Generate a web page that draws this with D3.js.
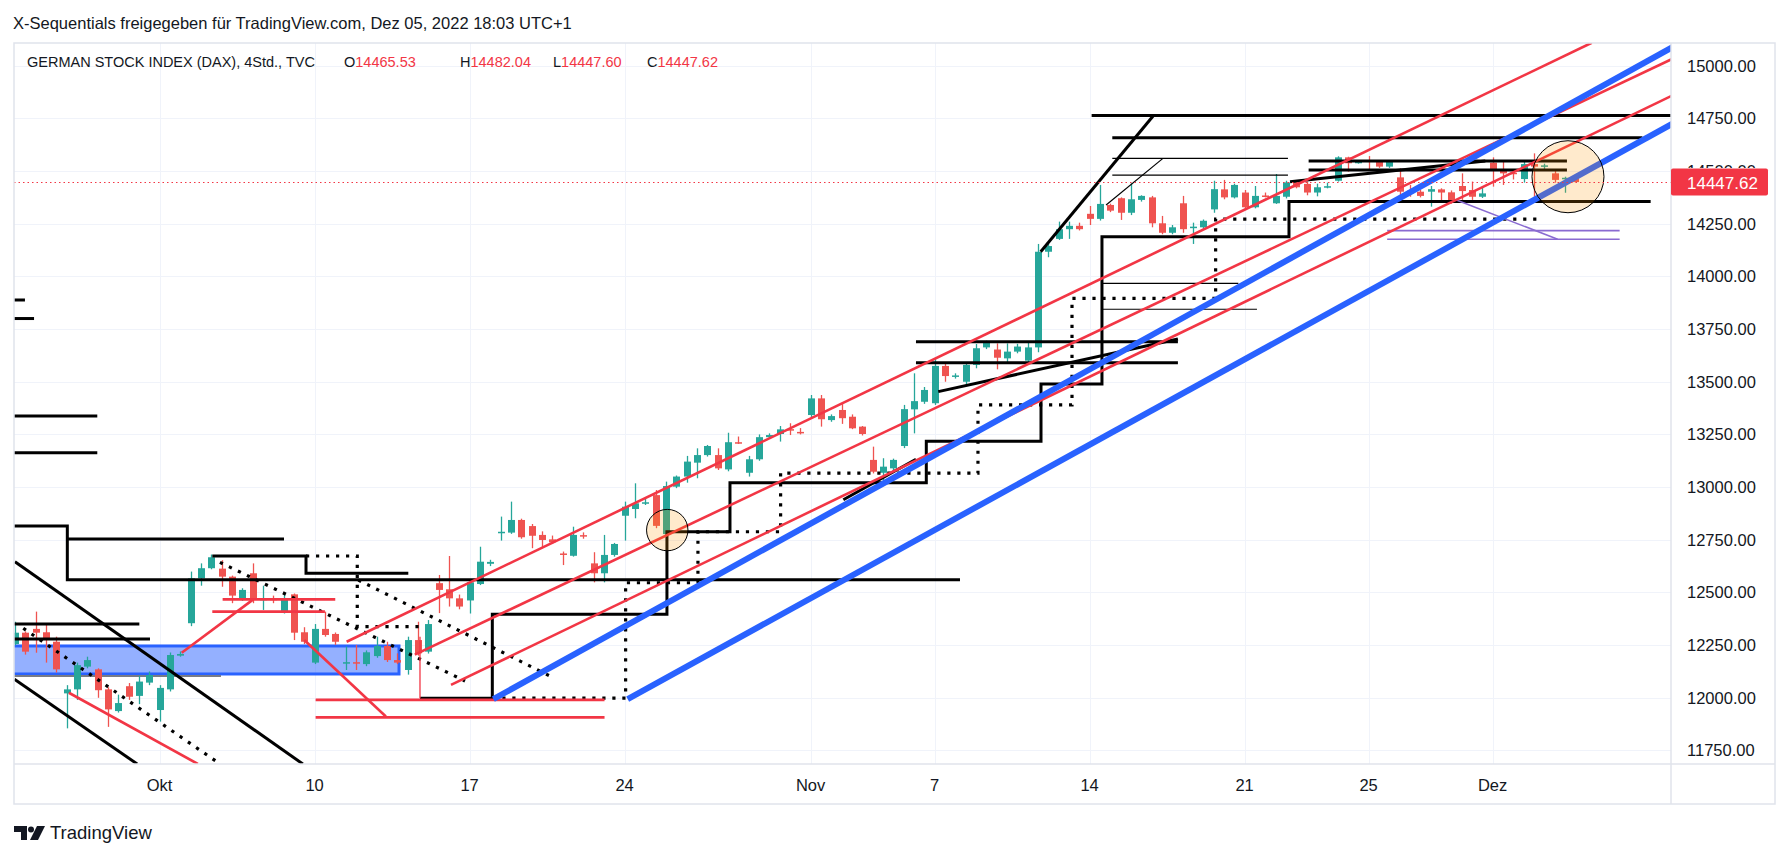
<!DOCTYPE html>
<html><head><meta charset="utf-8">
<script src="https://cdn.jsdelivr.net/npm/d3@7"></script>
<style>
body{margin:0;background:#fff;}
svg{display:block;font-family:"Liberation Sans",Arial,sans-serif;}
</style></head><body>
<svg id="c" width="1791" height="858"></svg>
<script>
// ---------- DATA ----------
const firstBar = 1;
const opens  = [12255,12309,12327,12311,12266,12021,12040,12148,12135,12040,11937,12055,12009,12072,11942,12040,12200,12354,12567,12615,12613,12575,12468,12591,12466,12470,12409,12491,12311,12167,12327,12303,12165,12169,12160,12198,12246,12179,12132,12274,12219,12544,12515,12472,12462,12540,12636,12782,12784,12844,12815,12773,12752,12685,12674,12772,12638,12591,12678,12864,12896,12923,12962,12777,13002,13050,13116,13152,13152,13084,13213,13068,13132,13237,13252,13275,13262,13342,13421,13318,13366,13334,13287,13129,13068,13089,13195,13369,13405,13398,13575,13525,13500,13580,13663,13653,13611,13643,13600,13663,14117,14178,14224,14240,14297,14273,14339,14371,14302,14363,14375,14252,14207,14347,14230,14233,14318,14413,14375,14398,14328,14384,14347,14378,14446,14439,14398,14423,14454,14565,14538,14550,14544,14521,14470,14407,14402,14402,14413,14399,14429,14410,14378,14540,14505,14492,14462,14533,14522,14489,14463,14465.53];
const highs  = [12361,12315,12409,12350,12290,12060,12167,12195,12140,12050,12015,12070,12105,12125,12060,12215,12220,12599,12638,12680,12653,12580,12520,12638,12532,12485,12491,12495,12335,12350,12409,12310,12243,12251,12225,12290,12266,12211,12290,12361,12369,12583,12673,12490,12563,12717,12655,12860,12931,12850,12825,12790,12770,12694,12812,12785,12691,12773,12735,12931,13018,12945,12986,13026,13055,13148,13184,13200,13184,13258,13240,13148,13250,13255,13290,13303,13280,13437,13437,13345,13394,13345,13290,13192,13137,13135,13390,13540,13475,13611,13590,13540,13590,13679,13695,13682,13682,13680,13685,14154,14154,14260,14260,14255,14334,14434,14345,14375,14442,14385,14382,14287,14244,14382,14255,14270,14454,14458,14440,14410,14429,14398,14486,14454,14455,14450,14440,14445,14570,14568,14552,14571,14550,14552,14513,14434,14410,14429,14418,14408,14489,14450,14420,14565,14549,14505,14544,14584,14535,14505,14473,14482.04];
const lows   = [12250,12205,12214,12167,12120,11855,11990,12140,12000,11862,11930,11990,11970,12060,11887,12030,12195,12340,12532,12610,12527,12449,12460,12449,12417,12449,12400,12274,12255,12160,12290,12251,12132,12132,12150,12190,12170,12160,12110,12200,12210,12402,12433,12420,12400,12535,12625,12746,12778,12755,12710,12710,12730,12630,12670,12755,12548,12548,12670,12746,12852,12915,12805,12770,12995,13021,13042,13145,13081,13075,13205,13050,13125,13230,13216,13247,13250,13330,13287,13310,13300,13275,13245,13065,13018,13080,13185,13255,13395,13390,13500,13515,13489,13564,13655,13559,13590,13635,13590,13640,14091,14173,14178,14218,14244,14265,14305,14268,14291,14355,14233,14200,14200,14207,14154,14225,14302,14366,14370,14318,14323,14375,14344,14370,14418,14385,14380,14418,14450,14497,14535,14505,14515,14515,14382,14378,14375,14331,14355,14345,14363,14363,14372,14426,14434,14460,14445,14378,14505,14445,14397,14447.60];
const closes = [12309,12219,12309,12274,12135,12040,12155,12179,12036,11945,11975,12005,12077,12108,12047,12203,12208,12567,12615,12667,12575,12485,12512,12464,12470,12466,12464,12309,12266,12327,12298,12266,12169,12165,12216,12246,12179,12167,12274,12211,12350,12512,12472,12433,12548,12646,12645,12788,12844,12762,12769,12749,12738,12682,12773,12766,12591,12678,12730,12907,12923,12928,12816,13005,13050,13121,13152,13195,13089,13213,13210,13132,13237,13247,13274,13270,13256,13421,13322,13337,13327,13279,13252,13073,13097,13129,13370,13408,13461,13575,13527,13530,13580,13659,13685,13614,13643,13667,13663,14117,14144,14224,14240,14224,14273,14344,14312,14302,14366,14382,14252,14207,14233,14224,14236,14264,14414,14375,14434,14328,14382,14380,14382,14446,14423,14398,14423,14428,14565,14537,14544,14545,14521,14544,14402,14394,14382,14414,14398,14355,14405,14378,14394,14502,14489,14486,14533,14521,14527,14458,14468,14447.62];

const priceTicks = [11750,12000,12250,12500,12750,13000,13250,13500,13750,14000,14250,14500,14750,15000];
const timeTicks  = [15,30,45,60,78,90,105,120,132,144];
const timeLabels = ["Okt","10","17","24","Nov","7","14","21","25","Dez"];
const lastPrice = 14447.62;
const legendValues = [["O","14465.53"],["H","14482.04"],["L","14447.60"],["C","14447.62"]];

// drawings, in [bar, price]
const blueLines = [
  [[47.3,11994],[161.5,15090]],
  [[60.3,11994],[161.5,14727]]
];
const redLines = [
  [[33.1,12266],[153.6,15109]],
  [[39.7,12205],[161.5,15035]],
  [[43.2,12061],[161.5,14861]],
  [[17.14,12214],[24.07,12467]],
  [[21.1,12467],[32.0,12467]],
  [[20.1,12409],[31.0,12409]],
  [[29.0,12274],[36.9,11911]],
  [[30.1,11990],[58.06,11990]],
  [[30.1,11907],[58.06,11907]],
  [[6.22,12024],[18.7,11686]]
];
const thinRedLines = [[[40.2,12290],[40.2,11998]]];
const blackLines = [
  [[40.2,11998],[47.2,11998],[47.2,12396],[64.1,12396],[64.1,12788],[70.2,12788],[70.2,13021],[89.2,13021],[89.2,13217],[100.3,13217],[100.3,13489],[106.2,13489],[106.2,14188],[124.3,14188],[124.3,14355],[159.3,14355]],
  [[1.0,12646],[28.86,11686]],
  [[0.95,12088],[12.83,11686]],
  [[0.5,12815],[6.07,12815],[6.07,12560],[92.46,12560]],
  [[6.07,12754],[27.04,12754]],
  [[20.1,12673],[29.17,12673],[29.17,12591],[39.07,12591]],
  [[0.5,12350],[13.04,12350]],
  [[0.5,12279],[14.07,12279]],
  [[0.5,13163],[8.97,13163]],
  [[0.5,13337],[8.97,13337]],
  [[0.5,13888],[1.97,13888]],
  [[0.5,13800],[2.85,13800]],
  [[88.2,13690],[113.55,13690]],
  [[88.2,13590],[113.55,13590]],
  [[81.17,12940],[88.2,13132]],
  [[90.36,13453],[113.55,13703]],
  [[100.27,14117],[111.23,14766]],
  [[105.2,14764],[161.5,14764]],
  [[107.2,14658],[158.5,14658]],
  [[126.2,14548],[151.2,14548]],
  [[126.2,14505],[151.2,14505]],
  [[124.4,14449],[143.3,14548]]
];
const thinBlackLines = [
  [[107.2,14560],[124.2,14560]],
  [[107.2,14481],[124.2,14481]],
  [[106.6,14339],[112.1,14560]],
  [[106.3,13967],[119.4,13967]],
  [[106.3,13844],[121.2,13844]]
];
const dottedLines = [
  [[47.2,11998],[60.1,11998],[60.1,12546],[67.1,12546],[67.1,12788],[75.1,12788],[75.1,13066],[94.2,13066],[94.2,13390],[103.3,13390],[103.3,13896],[117.2,13896],[117.2,14272],[148.8,14272]],
  [[1.81,12330],[20.85,11686]],
  [[20.84,12643],[44.56,12080]],
  [[34.23,12559],[52.78,12103]],
  [[29.17,12673],[34.13,12673],[34.13,12338],[40.5,12338]]
];
const purpleLines = [
  [[133.8,14217],[156.3,14217]],
  [[133.8,14176],[156.3,14176]],
  [[140.5,14363],[150.3,14176]]
];
const grayLines = [[[0.5,12103],[20.94,12103]]];
const blueBox = [[0.5,12113],[38.17,12246]];
const circleCenters = [[64.13,12796],[151.3,14473]];

// ---------- LAYOUT / STYLE ----------
const W = 1791, H = 858;
const plot = {l:14, r:1671, t:43, b:764};
const axisRight = 1775, axisBottom = 804;
const circleRadii = [20.7, 36];
const C = {green:"#26a69a", red:"#ef5350", line:"#f23645", blue:"#2962ff", text:"#131722", grid:"#f0f3fa", border:"#e0e3eb"};

const svg = d3.select("#c");
const x = d3.scaleLinear().domain([0,152]).range([4.6, 4.6+152*10.333]);
const y = d3.scaleLinear().domain([11685.8, 15107.7]).range([plot.b, plot.t]);

svg.append("rect").attr("width",W).attr("height",H).attr("fill","#fff");
const defs = svg.append("defs");
defs.append("clipPath").attr("id","pc").append("rect")
  .attr("x",plot.l).attr("y",plot.t).attr("width",plot.r-plot.l).attr("height",plot.b-plot.t);

// grid
const grid = svg.append("g").attr("clip-path","url(#pc)");
grid.selectAll("line.h").data(priceTicks).join("line")
  .attr("x1",plot.l).attr("x2",plot.r).attr("y1",d=>Math.round(y(d))+0.5).attr("y2",d=>Math.round(y(d))+0.5)
  .attr("stroke",C.grid).attr("stroke-width",1);
grid.selectAll("line.v").data(timeTicks).join("line")
  .attr("y1",plot.t).attr("y2",plot.b).attr("x1",d=>Math.round(x(d))+0.5).attr("x2",d=>Math.round(x(d))+0.5)
  .attr("stroke",C.grid).attr("stroke-width",1);

const pane = svg.append("g").attr("clip-path","url(#pc)");
const lineGen = d3.line().x(d=>x(d[0])).y(d=>y(d[1]));

// blue box
pane.append("rect")
  .attr("x",x(blueBox[0][0])).attr("y",y(blueBox[1][1]))
  .attr("width",x(blueBox[1][0])-x(blueBox[0][0])).attr("height",y(blueBox[0][1])-y(blueBox[1][1]))
  .attr("fill","rgba(41,98,255,0.5)").attr("stroke",C.blue).attr("stroke-width",3);
pane.selectAll("path.gray").data(grayLines).join("path").attr("d",lineGen)
  .attr("fill","none").attr("stroke","#787b86").attr("stroke-width",2);

// candles
const bars = opens.map((o,k)=>({i:k+firstBar,o,h:highs[k],l:lows[k],c:closes[k]}));
const cg = pane.append("g");
cg.selectAll("line.w").data(bars).join("line")
  .attr("x1",d=>Math.round(x(d.i))+0.5).attr("x2",d=>Math.round(x(d.i))+0.5)
  .attr("y1",d=>y(d.h)).attr("y2",d=>y(d.l))
  .attr("stroke",d=>d.c>=d.o?C.green:C.red).attr("stroke-width",1.3);
cg.selectAll("rect").data(bars).join("rect")
  .attr("x",d=>Math.round(x(d.i))-3).attr("width",7)
  .attr("y",d=>y(Math.max(d.o,d.c))).attr("height",d=>Math.max(1.5,Math.abs(y(d.o)-y(d.c))))
  .attr("fill",d=>d.c>=d.o?C.green:C.red);

// drawings
function draw(data, stroke, width, dash){
  const s = pane.append("g").selectAll("path").data(data).join("path").attr("d",lineGen)
    .attr("fill","none").attr("stroke",stroke).attr("stroke-width",width).attr("stroke-linejoin","miter");
  if(dash) s.attr("stroke-dasharray",dash);
}
draw(dottedLines,"#000",3.2,"3.2,6.8");
draw(thinBlackLines,"#000",1.2);
draw(blackLines,"#000",3);
draw(purpleLines,"#8a6bd1",1.6);
draw(thinRedLines,C.line,1.3);
draw(redLines,C.line,2.6);
draw(blueLines,C.blue,6);

// circles
pane.selectAll("circle").data(circleCenters).join("circle")
  .attr("cx",d=>x(d[0])).attr("cy",d=>y(d[1])).attr("r",(d,k)=>circleRadii[k])
  .attr("fill","rgba(255,152,0,0.2)").attr("stroke","#000").attr("stroke-width",1);

// last price line
pane.append("line").attr("x1",plot.l).attr("x2",plot.r)
  .attr("y1",Math.round(y(lastPrice))+0.5).attr("y2",Math.round(y(lastPrice))+0.5)
  .attr("stroke",C.line).attr("stroke-width",1).attr("stroke-dasharray","1.5,3");

// frame
const fr = svg.append("g").attr("fill","none").attr("stroke",C.border).attr("stroke-width",1.5);
fr.append("rect").attr("x",plot.l).attr("y",plot.t).attr("width",axisRight-plot.l).attr("height",axisBottom-plot.t);
fr.append("line").attr("x1",plot.r).attr("x2",plot.r).attr("y1",plot.t).attr("y2",axisBottom);
fr.append("line").attr("x1",plot.l).attr("x2",axisRight).attr("y1",plot.b).attr("y2",plot.b);

// price axis labels (the one hidden by the last-price tag is clipped to its visible part)
const ly = y(lastPrice);
defs.append("clipPath").attr("id","axclip").append("path")
  .attr("d",`M${plot.r},0 H${W} V${ly-14} H${plot.r} Z M${plot.r},${ly+14} H${W} V${H} H${plot.r} Z`);
svg.append("g").attr("clip-path","url(#axclip)").selectAll("text")
  .data(priceTicks.filter(d=>y(d)>plot.t+8&&y(d)<plot.b-6)).join("text")
  .attr("x",1687).attr("y",d=>y(d)+6).attr("font-size",16.5).attr("fill",C.text)
  .text(d=>d3.format(".2f")(d));
svg.append("rect").attr("x",plot.r).attr("y",ly-13.5).attr("width",97).attr("height",27).attr("rx",2).attr("fill","#f23645");
svg.append("text").attr("x",1687).attr("y",ly+6.5).attr("font-size",17).attr("font-weight",500).attr("fill","#fff").text(d3.format(".2f")(lastPrice));

// time axis labels
svg.append("g").selectAll("text").data(timeTicks).join("text")
  .attr("x",d=>x(d)).attr("y",791).attr("text-anchor","middle").attr("font-size",16.5).attr("fill",C.text)
  .text((d,k)=>timeLabels[k]);

// header
svg.append("text").attr("x",13).attr("y",29).attr("font-size",16.5).attr("fill",C.text)
  .text("X-Sequentials freigegeben für TradingView.com, Dez 05, 2022 18:03 UTC+1");
svg.append("text").attr("x",27).attr("y",67).attr("font-size",14.5).attr("fill",C.text)
  .text("GERMAN STOCK INDEX (DAX), 4Std., TVC");
const legX = [344,460,553,647];
legendValues.forEach((v,k)=>{
  const t = svg.append("text").attr("x",legX[k]).attr("y",67).attr("font-size",14.5);
  t.append("tspan").attr("fill",C.text).text(v[0]);
  t.append("tspan").attr("fill","#f23645").text(v[1]);
});

// logo
const lg = svg.append("g").attr("fill","#131722");
lg.append("path").attr("d","M14,826 h13 v14 h-6 v-8 h-7 z");
lg.append("circle").attr("cx",31).attr("cy",829.5).attr("r",3);
lg.append("path").attr("d","M37,826 h8 l-7,14 h-8 z");
svg.append("text").attr("x",50).attr("y",839).attr("font-size",18.5).attr("fill","#131722").text("TradingView");
</script></body></html>
